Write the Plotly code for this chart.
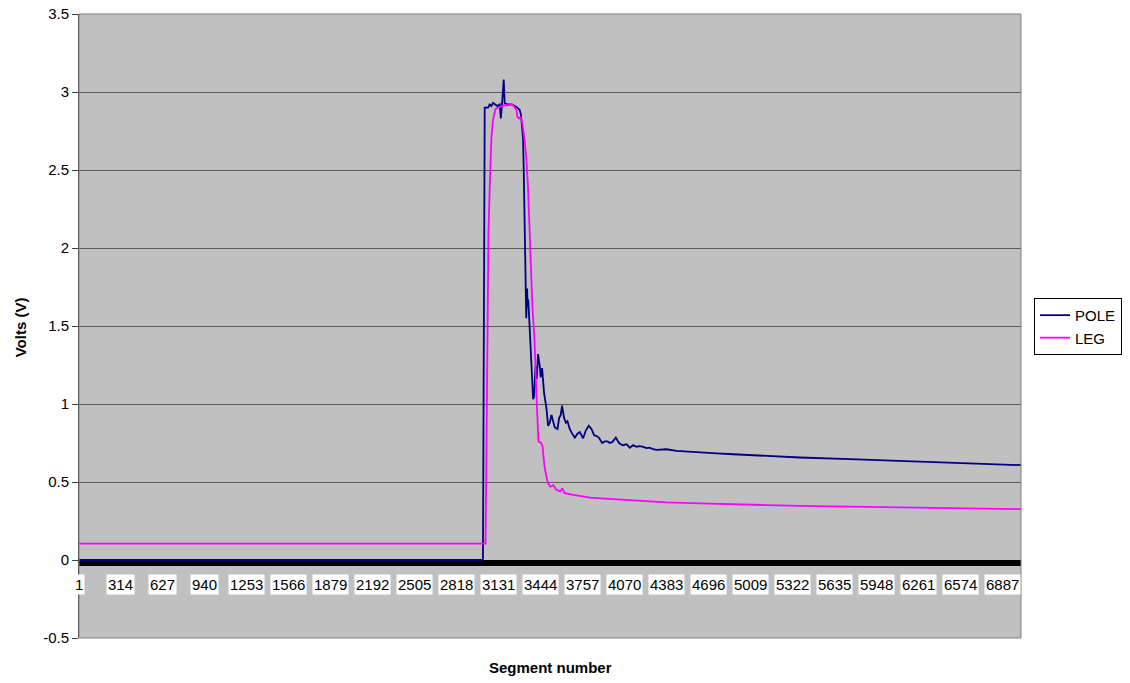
import plotly.graph_objects as go

# Segment numbers shown under the category axis
tick_segments = [1, 314, 627, 940, 1253, 1566, 1879, 2192, 2505, 2818, 3131,
                 3444, 3757, 4070, 4383, 4696, 5009, 5322, 5635, 5948, 6261,
                 6574, 6887]
n_segments = 7027

# Voltage axis ticks
volt_ticks = [-0.5, 0, 0.5, 1, 1.5, 2, 2.5, 3, 3.5]
volt_tick_text = ["-0.5", "0", "0.5", "1", "1.5", "2", "2.5", "3", "3.5"]

# POLE channel (volts vs segment)
pole_seg = [1, 3014, 3027, 3034, 3052, 3064, 3077, 3089, 3107, 3122, 3139,
            3147, 3156, 3169, 3176, 3197, 3214, 3231, 3251, 3271, 3288, 3296,
            3301, 3313, 3318, 3325, 3333, 3337, 3343, 3348, 3352, 3363, 3376,
            3388, 3395, 3406, 3415, 3425, 3438, 3445, 3455, 3470, 3488, 3500,
            3512, 3525, 3537, 3550, 3570, 3582, 3594, 3604, 3619, 3632, 3644,
            3661, 3679, 3699, 3719, 3736, 3761, 3781, 3803, 3823, 3843, 3861,
            3878, 3903, 3923, 3943, 3960, 3980, 4005, 4029, 4055, 4085, 4109,
            4134, 4159, 4178, 4204, 4234, 4258, 4283, 4308, 4346, 4383, 4458,
            4532, 4632, 4756, 4880, 5005, 5129, 5253, 5378, 5751, 6124, 6497,
            6870, 7027]
pole_volts = [0.0, 0.0, 2.90, 2.90, 2.90, 2.92, 2.91, 2.93, 2.92, 2.91, 2.92,
              2.83, 2.92, 3.08, 2.93, 2.92, 2.92, 2.92, 2.91, 2.90, 2.885, 2.86,
              2.82, 2.70, 2.50, 2.01, 1.70, 1.55, 1.74, 1.62, 1.67, 1.48, 1.22,
              1.03, 1.05, 1.24, 1.16, 1.32, 1.24, 1.17, 1.23, 1.07, 0.97, 0.86,
              0.88, 0.93, 0.89, 0.85, 0.84, 0.91, 0.93, 0.99, 0.91, 0.88, 0.89,
              0.84, 0.81, 0.785, 0.81, 0.82, 0.78, 0.83, 0.86, 0.84, 0.80, 0.795,
              0.785, 0.75, 0.76, 0.76, 0.75, 0.757, 0.785, 0.75, 0.736, 0.742, 0.72,
              0.736, 0.725, 0.73, 0.727, 0.717, 0.72, 0.71, 0.706, 0.71, 0.71, 0.70,
              0.695, 0.69, 0.683, 0.678, 0.672, 0.667, 0.663, 0.657, 0.647, 0.636, 0.625,
              0.614, 0.608]

# LEG channel (volts vs segment)
leg_seg = [1, 3033, 3038, 3042, 3048, 3055, 3064, 3077, 3089, 3107, 3126,
           3152, 3176, 3201, 3221, 3231, 3251, 3264, 3271, 3283, 3293, 3308,
           3325, 3338, 3350, 3358, 3368, 3376, 3383, 3398, 3408, 3416, 3428,
           3448, 3458, 3473, 3491, 3501, 3516, 3538, 3561, 3591, 3606, 3621,
           3666, 3740, 3815, 3890, 4134, 4383, 4632, 4880, 5129, 5378, 6124,
           6571, 7027]
leg_volts = [0.105, 0.105, 0.5, 1.0, 1.6, 2.1, 2.37, 2.71, 2.82, 2.89, 2.90,
             2.91, 2.915, 2.915, 2.92, 2.92, 2.90, 2.885, 2.84, 2.83, 2.84, 2.80,
             2.69, 2.57, 2.39, 2.18, 1.97, 1.755, 1.62, 1.42, 1.14, 0.99, 0.76,
             0.75, 0.73, 0.60, 0.52, 0.49, 0.47, 0.48, 0.45, 0.44, 0.46, 0.43,
             0.42, 0.41, 0.40, 0.395, 0.38, 0.369, 0.363, 0.356, 0.352, 0.347, 0.338,
             0.333, 0.326]

FONT = "Liberation Sans, Arial, sans-serif"

fig = go.Figure()
fig.add_trace(go.Scatter(x=pole_seg, y=pole_volts, mode="lines", name="POLE",
                         line=dict(color="#000080", width=1.8)))
fig.add_trace(go.Scatter(x=leg_seg, y=leg_volts, mode="lines", name="LEG",
                         line=dict(color="#FF00FF", width=1.8)))

# dense category tick marks form a solid band under the zero line
fig.add_shape(type="rect", xref="x", yref="y", x0=1, x1=n_segments,
              y0=-0.038, y1=0.0, fillcolor="black", line=dict(width=0),
              layer="between")

# plot-area border
fig.add_shape(type="rect", xref="paper", yref="paper", x0=0, x1=1, y0=0, y1=1,
              line=dict(color="#808080", width=1), layer="above")

# category labels sit in white boxes just under the axis
for seg in tick_segments:
    fig.add_annotation(x=seg, y=0, xref="x", yref="y", text=str(seg),
                       showarrow=False, yshift=-24, yanchor="middle",
                       bgcolor="white", borderpad=1,
                       font=dict(family=FONT, size=15, color="black"))

fig.add_annotation(text="<b>Volts (V)</b>", xref="paper", yref="paper",
                   x=-0.0626, y=0.498, textangle=-90, showarrow=False,
                   xanchor="center", yanchor="middle",
                   font=dict(family=FONT, size=15, color="black"))
fig.add_annotation(text="<b>Segment number</b>", xref="paper", yref="paper",
                   x=0.5, y=-0.0465, showarrow=False,
                   xanchor="center", yanchor="middle",
                   font=dict(family=FONT, size=15, color="black"))

fig.update_layout(
    width=1130, height=683,
    margin=dict(l=79, r=109, t=14, b=45, autoexpand=False),
    paper_bgcolor="white",
    plot_bgcolor="#C0C0C0",
    font=dict(family=FONT, size=15, color="black"),
    showlegend=True,
    legend=dict(x=1.0138, y=0.545, xanchor="left", yanchor="top",
                bgcolor="white", bordercolor="black", borderwidth=1,
                font=dict(family=FONT, size=15, color="black"),
                tracegroupgap=0, itemwidth=30, entrywidth=82),
    xaxis=dict(range=[1, n_segments], showgrid=False, zeroline=False,
               showticklabels=False, ticks="", showline=False,
               automargin=False),
    yaxis=dict(range=[-0.5, 3.5], tickvals=volt_ticks, ticktext=volt_tick_text,
               showgrid=True, gridcolor="#5a5a5a", gridwidth=1, zeroline=False,
               showline=True, linecolor="#404040", linewidth=1,
               ticks="outside", ticklen=6, tickcolor="#404040",
               automargin=False,
               tickfont=dict(family=FONT, size=15, color="black")),
)

fig.write_html("out.html")
